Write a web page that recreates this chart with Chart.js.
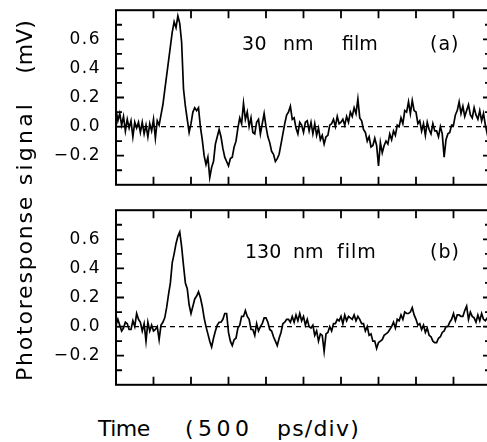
<!DOCTYPE html>
<html>
<head>
<meta charset="utf-8">
<script src="https://cdn.jsdelivr.net/npm/chart.js@4/dist/chart.umd.min.js"></script>
<style>
  body { margin: 0; background: #fff; }
  #fig { position: relative; width: 487px; height: 442px; overflow: hidden; font-family: 'DejaVu Sans', sans-serif; color: #000; }
  #fig canvas { position: absolute; left: 0; }
  .t { position: absolute; white-space: pre; line-height: 1; }
  .yt { position: absolute; white-space: pre; line-height: 1; font-size: 22px; transform: translate(-50%, -50%) rotate(-90deg); }
</style>
</head>
<body>
<div id="fig">
  <canvas id="panelA" width="500" height="195" style="top:0"></canvas>
  <canvas id="panelB" width="500" height="195" style="top:200px"></canvas>

  <div class="yt" style="left:24.5px;top:287.5px;letter-spacing:1.8px">Photoresponse</div>
  <div class="yt" style="left:24.5px;top:142.5px;letter-spacing:3.2px">signal</div>
  <div class="yt" style="left:24.5px;top:46.5px">(mV)</div>

  <div class="t" style="left:98px;top:418px;font-size:22px;letter-spacing:-0.5px">Time</div>
  <div class="t" style="left:185px;top:418px;font-size:22px;letter-spacing:4.5px">(500</div>
  <div class="t" style="left:277px;top:418px;font-size:22px;letter-spacing:1.2px">ps/div)</div>

  <div class="t" style="left:242px;top:34px;font-size:19px;letter-spacing:0.5px">30</div>
  <div class="t" style="left:283px;top:34px;font-size:19px">nm</div>
  <div class="t" style="left:342px;top:34px;font-size:19px">film</div>
  <div class="t" style="left:430px;top:34px;font-size:19px;letter-spacing:1px">(a)</div>

  <div class="t" style="left:245px;top:242px;font-size:19px">130</div>
  <div class="t" style="left:293px;top:242px;font-size:19px">nm</div>
  <div class="t" style="left:337px;top:242px;font-size:19px;letter-spacing:1px">film</div>
  <div class="t" style="left:430px;top:242px;font-size:19px;letter-spacing:1px">(b)</div>
</div>
<script>
// signal in mV, one sample every 0.05 div (500 ps/div), 0..10 div
const SAMPLE_STEP = 0.05

// (a) 30 nm film
const trace30 = [
  0.12, 0.04, 0.09, 0.01, 0.07, -0.03, 0.05, -0.01, 0.04, -0.07, 0.03, -0.01, 0.03, -0.04, 0.03, -0.05, 0.01, -0.07, 0.02, -0.03,
  0.05, -0.08, 0.04, 0.01, 0.08, 0.15, 0.25, 0.35, 0.45, 0.55, 0.65, 0.72, 0.68, 0.76, 0.71, 0.58, 0.26, 0.14, 0.05, -0.04,
  0.02, 0.10, 0.13, 0.11, 0.13, 0.00, -0.09, -0.20, -0.26, -0.21, -0.35, -0.28, -0.24, -0.12, -0.07, -0.02, -0.07, -0.15, -0.21, -0.24,
  -0.27, -0.22, -0.21, -0.14, -0.10, -0.01, 0.06, 0.02, 0.16, 0.05, 0.10, 0.00, 0.06, -0.04, -0.05, 0.03, 0.05, -0.05, 0.02, 0.09,
  0.00, -0.07, -0.11, -0.17, -0.19, -0.24, -0.22, -0.19, -0.12, -0.05, 0.02, 0.08, 0.10, 0.14, 0.05, 0.06, -0.01, -0.05, 0.03, 0.01,
  -0.04, 0.03, 0.04, -0.03, 0.03, -0.05, 0.02, -0.06, -0.01, -0.09, -0.06, -0.12, -0.07, -0.06, 0.01, 0.02, 0.05, 0.00, 0.07, 0.02,
  0.03, 0.05, 0.01, 0.07, 0.03, 0.10, 0.07, 0.13, 0.09, 0.19, 0.06, 0.04, -0.02, -0.04, -0.10, -0.07, -0.14, -0.13, -0.08, -0.13,
  -0.27, -0.11, -0.18, -0.13, -0.10, -0.12, -0.05, -0.09, -0.03, -0.06, 0.01, 0.00, 0.06, 0.02, 0.11, 0.10, 0.17, 0.09, 0.18, 0.11,
  0.10, 0.02, 0.04, -0.03, 0.02, -0.06, 0.03, -0.02, -0.05, 0.02, -0.03, -0.03, -0.07, 0.00, -0.05, -0.21, -0.09, -0.05, -0.04, 0.01,
  0.01, 0.08, 0.11, 0.17, 0.09, 0.14, 0.07, 0.11, 0.15, 0.08, 0.06, 0.13, 0.08, 0.05, 0.11, 0.04, 0.09, 0.01, -0.05, 0.04, 0.03,
]

// (b) 130 nm film
const trace130 = [
  0.01, 0.05, 0.01, -0.03, -0.01, 0.03, 0.02, -0.02, -0.02, 0.04, 0.00, 0.09, 0.05, 0.03, -0.03, 0.02, -0.10, 0.03, -0.03, 0.01,
  -0.03, -0.02, 0.00, -0.09, 0.01, 0.03, 0.06, 0.13, 0.22, 0.30, 0.44, 0.50, 0.57, 0.62, 0.65, 0.55, 0.42, 0.30, 0.26, 0.15,
  0.09, 0.14, 0.19, 0.21, 0.24, 0.20, 0.14, 0.06, 0.00, -0.05, -0.10, -0.14, -0.08, -0.03, 0.01, 0.03, 0.03, 0.05, 0.09, 0.09,
  -0.04, -0.10, -0.13, -0.09, -0.08, -0.01, 0.01, 0.07, 0.07, 0.11, 0.07, 0.05, -0.02, -0.02, -0.06, 0.02, -0.03, 0.00, 0.02, 0.06,
  0.06, 0.03, -0.02, -0.03, -0.07, -0.10, -0.13, -0.08, -0.04, 0.02, 0.03, 0.05, 0.05, 0.03, 0.07, 0.03, 0.08, 0.04, 0.09, 0.04,
  0.07, 0.01, 0.05, 0.00, -0.01, 0.01, -0.06, -0.03, -0.10, -0.05, -0.06, -0.17, -0.05, -0.04, 0.00, -0.03, 0.02, 0.02, 0.05, 0.04,
  0.07, 0.02, 0.08, 0.04, 0.07, 0.06, 0.05, 0.08, 0.04, 0.07, 0.05, 0.02, 0.02, -0.03, 0.00, -0.06, -0.05, -0.10, -0.10, -0.15,
  -0.11, -0.10, -0.09, -0.06, -0.05, -0.04, -0.02, 0.00, 0.03, -0.01, 0.05, 0.04, 0.08, 0.05, 0.10, 0.09, 0.09, 0.10, 0.13, 0.08,
  0.05, 0.01, 0.02, -0.02, 0.01, -0.04, -0.01, -0.06, -0.07, -0.10, -0.11, -0.11, -0.08, -0.07, -0.04, -0.03, 0.00, 0.00, 0.03, 0.05,
  0.09, 0.04, 0.08, 0.08, 0.07, 0.07, 0.11, 0.14, 0.05, 0.10, 0.07, 0.06, 0.03, 0.08, 0.04, 0.09, 0.05, 0.04, 0.06, 0.02, 0.05,
]

const xTicks = [1, 2, 3, 4, 5, 6, 7, 8, 9]
const yTicks = [-0.3, -0.2, -0.1, 0, 0.1, 0.2, 0.3, 0.4, 0.5, 0.6, 0.7]
const yLabels = [-0.2, 0, 0.2, 0.4, 0.6]

const fmt = (v) => {
  const r = Math.round(v * 10) / 10
  if (!yLabels.some((l) => Math.abs(l - r) < 1e-6)) return null
  return (Math.abs(r) < 1e-6 ? 0 : r).toFixed(1).replace('-', '\u2212')
}

// inward ticks on all four sides + the box
const framePlugin = {
  id: 'frame',
  beforeDraw(chart) {
    chart.ctx.letterSpacing = '1.5px'
  },
  afterDraw(chart) {
    const { ctx, chartArea: a, scales: { x, y } } = chart
    ctx.save()
    ctx.strokeStyle = '#000'
    ctx.lineWidth = 1.8
    ctx.beginPath()
    xTicks.forEach((t) => {
      const px = x.getPixelForValue(t)
      ctx.moveTo(px, a.top); ctx.lineTo(px, a.top + 8)
      ctx.moveTo(px, a.bottom); ctx.lineTo(px, a.bottom - 8)
    })
    yTicks.forEach((t) => {
      const py = y.getPixelForValue(t)
      const len = Math.round(t * 10) % 2 === 0 ? 8 : 6
      ctx.moveTo(a.left, py); ctx.lineTo(a.left + len, py)
      ctx.moveTo(a.right, py); ctx.lineTo(a.right - len, py)
    })
    ctx.stroke()
    ctx.lineWidth = 2
    ctx.strokeRect(a.left, a.top, a.right - a.left, a.bottom - a.top)
    ctx.restore()
  },
}

function renderPanel(id, values, padTop, padBottom) {
  const pts = values.map((v, i) => ({ x: i * SAMPLE_STEP, y: v }))
  return new Chart(document.getElementById(id), {
    type: 'line',
    data: {
      datasets: [
        {
          data: pts,
          borderColor: '#000',
          borderWidth: 1.7,
          pointRadius: 0,
          tension: 0,
          order: 0,
        },
        {
          data: [{ x: 0, y: 0 }, { x: 10, y: 0 }],
          borderColor: '#000',
          borderWidth: 1.2,
          borderDash: [5, 4],
          pointRadius: 0,
          order: 1,
        },
      ],
    },
    options: {
      responsive: false,
      animation: false,
      devicePixelRatio: 1,
      layout: { autoPadding: false, padding: { left: 0, right: 9, top: padTop, bottom: padBottom } },
      scales: {
        x: { type: 'linear', min: 0, max: 10, display: false },
        y: {
          min: -0.4,
          max: 0.8,
          // tick marks are not drawn here, tickLength only pushes labels off the axis
          grid: { display: false, drawTicks: true, tickLength: 15 },
          border: { display: false },
          ticks: {
            stepSize: 0.2,
            padding: 0,
            color: '#000',
            font: { family: 'DejaVu Sans', size: 17 },
            callback: fmt,
          },
          afterFit(scale) { scale.width = 116 },
        },
      },
      plugins: { legend: { display: false }, tooltip: { enabled: false } },
    },
    plugins: [framePlugin],
  })
}

renderPanel('panelA', trace30, 7, 10)
renderPanel('panelB', trace130, 9, 7)
</script>
</body>
</html>
